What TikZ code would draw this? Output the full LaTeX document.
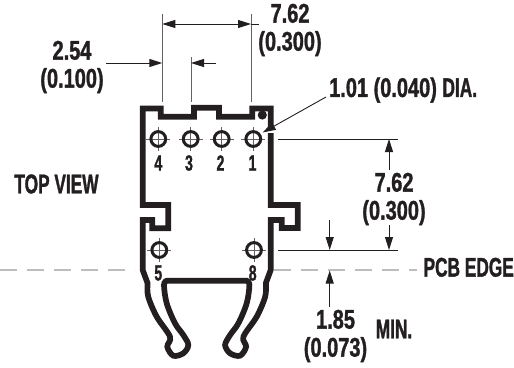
\documentclass[tikz,border=0pt]{standalone}
\usepackage{fontspec}
\newfontfamily\numfont{Liberation Sans Bold}[FakeStretch=0.74,FakeBold=1.2]
\newfontfamily\capfont{Liberation Sans Bold}[FakeStretch=0.64,FakeBold=1.2]
\usetikzlibrary{arrows.meta}
\definecolor{ink}{HTML}{231F20}
\definecolor{dashgray}{HTML}{BDBDBD}
\tikzset{
  body/.style={draw=ink,line width=5.7pt,line join=miter},
  dim/.style={draw=ink,line width=0.9pt},
  extline/.style={draw=ink!70,line width=0.9pt},
  tip/.style={-{Triangle[length=13pt,width=8pt,fill=ink]}},
  edge/.style={draw=dashgray,line width=1.1pt,dash pattern=on 17pt off 10pt},
  lab/.style={text=ink,font=\numfont\fontsize{27}{28}\selectfont,align=center,inner sep=0pt},
  caplab/.style={text=ink,font=\capfont\fontsize{27}{28}\selectfont,inner sep=0pt},
  pin/.style={text=ink,font=\capfont\fontsize{22}{22}\selectfont,inner sep=0pt},
  hole/.style={draw=ink,line width=3pt},
  cross/.style={draw=ink!70,line width=0.8pt}
}
\newcommand{\pinhole}[2]{%
  \draw[cross] (#1-12,#2) -- (#1+12,#2) (#1,#2-12) -- (#1,#2+12);
  \draw[hole] (#1,#2) circle (7.4);}
\begin{document}
\begin{tikzpicture}[x=1pt,y=-1pt]
\useasboundingbox (0,0) rectangle (514,367);
% PCB edge
\draw[edge] (0,270) -- (135,270);
\draw[edge] (274,270) -- (417,270);
% body
\draw[body] (270.7,128) -- (270.7,108.5) -- (252.3,108.5) -- (252.3,116.7) -- (219,116.7) -- (219,107.7) -- (194,107.7) -- (194,116.7) -- (160.7,116.7) -- (160.7,108.5) -- (142.7,108.5)
 -- (142.7,205) -- (168.3,205) -- (168.3,228.3) -- (152.3,228.3) -- (152.3,220) -- (142.7,220) -- (142.7,270)
 -- (147.5,283)
 -- plot[smooth,tension=.55] coordinates {(147.5,285) (148.3,297) (156.7,316.7) (170,336.7) (167.3,346.7) (173.3,355.7) (183.3,353.3) (188.3,345) (183.3,335) (175,323.3) (166.7,303.3) (164,285) (166.7,280.7)}
 -- (246.7,280.7)
 -- plot[smooth,tension=.55] coordinates {(246.7,280.7) (249.4,285) (246.7,303.3) (238.4,323.3) (230.1,335) (225.1,345) (230.1,353.3) (240.1,355.7) (246.1,346.7) (243.4,336.7) (256.7,316.7) (265.1,297) (265.9,285)}
 -- (265.9,283) -- (270.7,270)
 -- (270.7,220) -- (281.7,220) -- (281.7,228) -- (297.7,228) -- (297.7,205) -- (270.7,205) -- (270.7,133);
\fill[ink] (262.3,115) circle (4.6);
% holes
\pinhole{158.3}{139}
\pinhole{190.7}{139}
\pinhole{221.7}{139}
\pinhole{253.3}{139}
\pinhole{159.3}{250}
\pinhole{254}{250}
\node[pin] (p4) at (158.3,163) {4};
\node[pin] (p3) at (189,163) {3};
\node[pin] (p2) at (220.5,163) {2};
\node[pin] (p1) at (252.5,163) {1};
\node[pin] (p5) at (158.3,273) {5};
\node[pin] (p8) at (252.7,273) {8};
% top dimensions
\draw[extline] (162.3,14) -- (162.3,102);
\draw[extline] (251,14) -- (251,102);
\draw[extline] (191,57) -- (191,102);
\draw[dim,tip] (207,24) -- (162.3,24);
\draw[dim,tip] (200,24) -- (251,24);
\draw[dim] (251,24) -- (259,24);
\draw[dim,tip] (106,63) -- (162.3,63);
\draw[dim,tip] (216,63) -- (191,63);
% leader
\draw[dim,tip] (326,97) -- (262.7,132.5);
% right dimensions
\draw[dim] (278,139) -- (398,139);
\draw[dim] (278,250) -- (398,250);
\draw[dim,tip] (389,170) -- (389,139);
\draw[dim,tip] (389,225) -- (389,250);
\draw[dim,tip] (329.7,220) -- (329.7,250);
\draw[dim,tip] (329.7,307) -- (329.7,270.5);
% labels
\node[lab] (a) at (290,30) {7.62\\(0.300)};
\node[lab] (b) at (72,67) {2.54\\(0.100)};
\node[lab,anchor=west] (c) at (329,90) {1.01 (0.040) {\capfont DIA.}};
\node[lab] (d) at (394,199) {7.62\\(0.300)};
\node[caplab] (e) at (56.5,184) {TOP VIEW};
\node[caplab] (f) at (468.7,267.3) {PCB EDGE};
\node[lab] (g) at (335.5,336) {1.85\\(0.073)};
\node[caplab] (h) at (394,329) {MIN.};
\end{tikzpicture}
\end{document}
